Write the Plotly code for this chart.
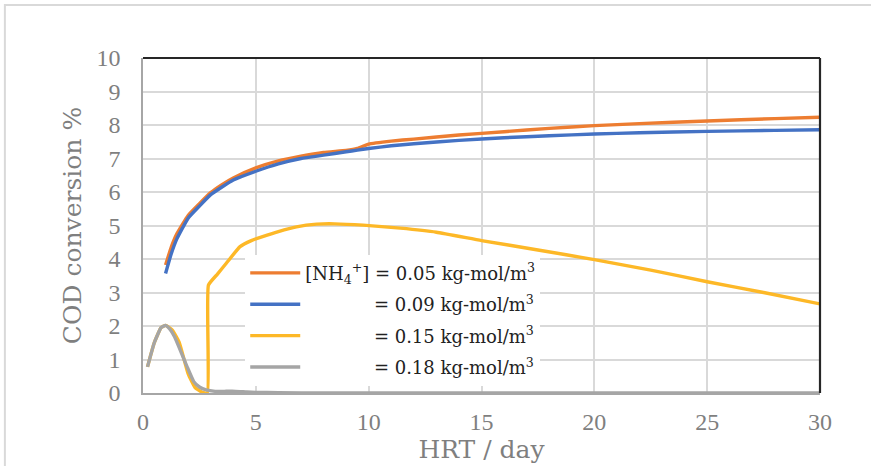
import plotly.graph_objects as go

# ---- data ----
x_hi = [1, 1.25, 1.5, 2, 2.5, 3, 3.5, 4, 5, 6, 7, 8, 9, 9.5, 10, 11, 12, 14, 16, 18, 20, 22, 25, 28, 30]
cod_005 = [3.82, 4.35, 4.75, 5.3, 5.65, 5.98, 6.22, 6.42, 6.72, 6.93, 7.07, 7.18, 7.24, 7.3, 7.43, 7.52, 7.58,
           7.7, 7.8, 7.9, 7.98, 8.04, 8.12, 8.19, 8.23]
cod_009 = [3.57, 4.15, 4.6, 5.22, 5.58, 5.92, 6.15, 6.36, 6.62, 6.84, 7.0, 7.1, 7.2, 7.25, 7.3, 7.38, 7.44,
           7.54, 7.62, 7.68, 7.73, 7.77, 7.81, 7.84, 7.86]

x_015 = [0.2, 0.5, 0.8, 1.0, 1.3, 1.6, 2.0, 2.3, 2.6, 2.85, 2.9, 3.3, 3.7, 4.3, 4.8, 5.3, 6.0, 6.8, 7.7, 8.5,
         9.75, 11.4, 13, 15, 17.5, 20, 22.5, 25, 27.5, 30]
cod_015 = [0.78, 1.5, 1.95, 2.02, 1.88, 1.52, 0.58, 0.17, 0.03, 0.0, 3.22, 3.55, 3.88, 4.37, 4.55, 4.67, 4.82,
           4.96, 5.04, 5.05, 5.01, 4.92, 4.8, 4.55, 4.27, 3.98, 3.67, 3.32, 3.0, 2.66]

x_018 = [0.2, 0.5, 0.8, 1.0, 1.2, 1.4, 1.65, 1.95, 2.25, 2.5, 2.8, 3.2, 3.6, 4.1, 4.6, 5, 6, 8, 10, 15, 20, 25, 30]
cod_018 = [0.78, 1.5, 1.95, 2.02, 1.9, 1.68, 1.28, 0.79, 0.34, 0.18, 0.09, 0.05, 0.05, 0.05, 0.03, 0.02,
           0.01, 0.0, 0.0, 0.0, 0.0, 0.0, 0.0]

names = [
    "[NH<sub>4</sub><sup>+</sup>] = 0.05 kg-mol/m<sup>3</sup>",
    "\u00a0" * 12 + "= 0.09 kg-mol/m<sup>3</sup>",
    "\u00a0" * 12 + "= 0.15 kg-mol/m<sup>3</sup>",
    "\u00a0" * 12 + "= 0.18 kg-mol/m<sup>3</sup>",
]
colors = ["#ED7D31", "#4472C4", "#FDB827", "#A5A5A5"]
xs = [x_hi, x_hi, x_015, x_018]
ys = [cod_005, cod_009, cod_015, cod_018]

fig = go.Figure()
for i in range(4):
    fig.add_trace(go.Scatter(
        x=xs[i], y=ys[i], mode="lines", name=names[i], legendgroup=f"g{i}",
        line=dict(color=colors[i], width=3.4, shape="spline", smoothing=0.4),
        cliponaxis=False,
    ))

tick_font = dict(family="Liberation Serif", size=24, color="#7f7f7f")
title_font = dict(family="DejaVu Serif", size=25, color="#7f7f7f")

fig.update_layout(
    width=871, height=466,
    margin=dict(l=143, r=51, t=58, b=73, autoexpand=False),
    paper_bgcolor="white", plot_bgcolor="white",
    font=dict(family="DejaVu Serif"),
    showlegend=True,
    legend=dict(
        x=0.151, y=0.413, xanchor="left", yanchor="top",
        bgcolor="white", borderwidth=0,
        font=dict(family="DejaVu Serif", size=18, color="#222222"),
        tracegroupgap=5, itemwidth=50,
    ),
    xaxis=dict(
        range=[0, 30], dtick=5, tick0=0, showgrid=True, gridcolor="#d9d9d9", gridwidth=1.5,
        zeroline=False, showline=True, linecolor="#a6a6a6", linewidth=1.5,
        tickfont=tick_font, ticks="", ticklabelstandoff=6, automargin=False,
        title=dict(text="HRT / day", font=title_font, standoff=0),
    ),
    yaxis=dict(
        range=[0, 10], dtick=1, tick0=0, showgrid=True, gridcolor="#d9d9d9", gridwidth=1.5,
        zeroline=False, showline=True, linecolor="#a6a6a6", linewidth=1.5,
        tickfont=tick_font, ticks="", ticklabelstandoff=16, automargin=False,
        title=dict(text="COD conversion %", font=title_font, standoff=8),
    ),
    shapes=[
        dict(type="line", xref="paper", yref="paper", x0=0, x1=1, y0=1, y1=1,
             line=dict(color="#262626", width=2.2)),
        dict(type="line", xref="paper", yref="paper", x0=1, x1=1, y0=0, y1=1,
             line=dict(color="#262626", width=2.2)),
        dict(type="rect", xref="paper", yref="paper", x0=-0.204, x1=1.2, y0=-0.3, y1=1.158,
             line=dict(color="#d9d9d9", width=2), layer="below"),
    ],
)

fig.write_html("out.html")
